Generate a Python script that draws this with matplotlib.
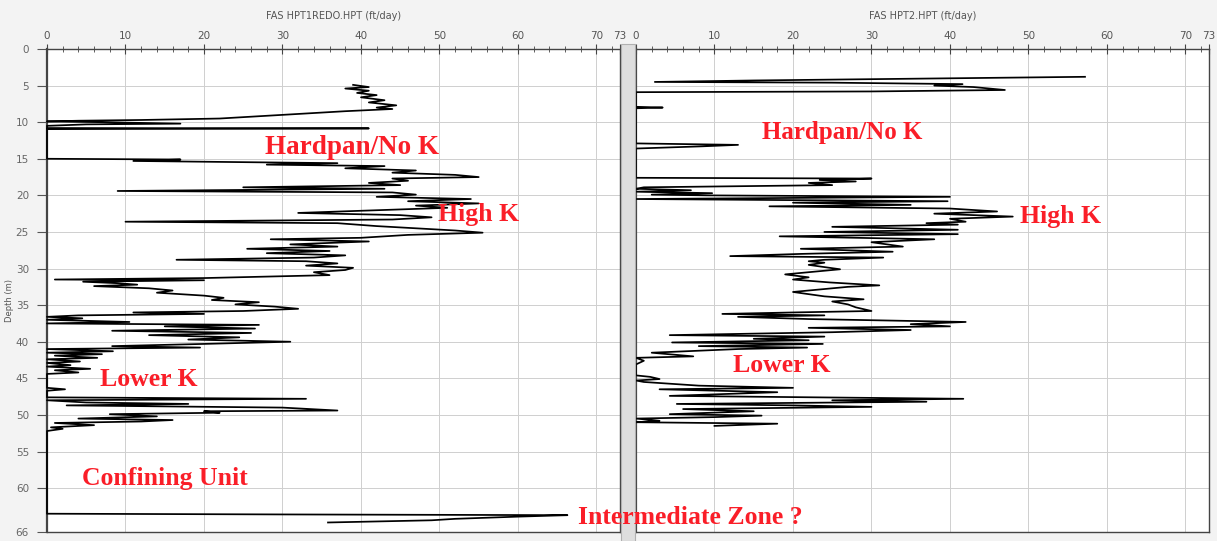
import matplotlib.pyplot as plt
from matplotlib.patches import Rectangle

# HPT1 (left log): depth (m) and K (ft/day)
hpt1_depth = [4.9, 5.2, 5.4, 5.7, 6.0, 6.3, 6.6, 7.0, 7.3, 7.7, 8.0, 8.2, 8.5, 9.0, 9.3, 9.5,
              9.7, 9.8, 9.9, 10.0, 10.2, 10.3, 10.5, 10.8, 10.85, 10.95, 15.0, 15.1, 15.3, 15.6,
              15.8, 16.0, 16.3, 16.6, 16.9, 17.2, 17.5, 17.7, 18.0, 18.3, 18.6, 18.9, 19.1, 19.4,
              19.6, 19.9, 20.2, 20.5, 20.8, 21.1, 21.4, 21.7, 22.0, 22.4, 22.7, 23.0, 23.3, 23.6,
              23.8, 24.2, 24.5, 24.8, 25.1, 25.4, 25.8, 26.0, 26.3, 26.7, 27.0, 27.3, 27.6, 27.9,
              28.2, 28.5, 28.8, 29.0, 29.3, 29.6, 29.9, 30.2, 30.5, 30.9, 31.3, 31.5, 31.6, 31.8,
              32.0, 32.2, 32.4, 32.7, 33.0, 33.3, 33.7, 34.0, 34.3, 34.6, 34.9, 35.2, 35.5, 35.8,
              36.0, 36.2, 36.4, 36.6, 36.8, 37.0, 37.3, 37.5, 37.7, 37.9, 38.2, 38.5, 38.8, 39.1,
              39.4, 39.7, 40.0, 40.3, 40.6, 40.8, 41.0, 41.3, 41.5, 41.7, 41.9, 42.2, 42.4, 42.7,
              42.9, 43.2, 43.4, 43.7, 43.9, 44.2, 44.4, 46.3, 46.5, 46.7, 47.6, 47.8, 48.0, 48.3,
              48.5, 48.7, 49.0, 49.4, 49.5, 49.7, 49.9, 50.2, 50.5, 50.7, 50.9, 51.1, 51.4, 51.7,
              51.9, 52.2, 63.5, 63.6, 63.7, 63.9, 64.2, 64.4, 64.7]
hpt1_k = [39, 41, 38, 41, 39.5, 42, 40, 43, 41, 44.5, 42, 44, 38, 30, 25, 22,
          12, 4, 0, 7, 17, 5, 0, 0, 41, 0, 0, 17, 11, 37,
          28, 43, 38, 47, 44, 52, 55, 44, 46, 41, 45, 25, 43, 9,
          44, 47, 42, 54, 46, 55, 47, 51, 43, 32, 45, 49, 44, 10,
          37, 42, 47, 52, 55.5, 46, 40, 28.5, 41, 31, 37, 25.5, 36, 28,
          38, 34, 16.5, 33, 37, 33, 39, 38, 34, 36, 20, 1, 20, 4.6,
          9, 11.5, 6, 13, 16, 14, 20, 22.5, 21, 27, 24, 29, 32, 25,
          11, 20, 4, 0, 4.5, 0, 10.5, 0, 27, 15, 26.5, 8.3, 26, 13,
          24.5, 18, 31, 20, 8.3, 19.5, 0, 8.4, 0, 7, 1, 6.4, 0, 4.2,
          0, 3, 0, 5.5, 1, 4, 0, 0, 2.3, 0, 0, 33, 0, 5,
          18, 2.5, 30, 37, 20, 22, 8, 14, 4, 16, 12, 1, 6, 0.5,
          2, 0, 0, 30, 66.3, 60, 52, 49, 35.8]

# HPT2 (right log)
hpt2_depth = [3.8, 4.0, 4.3, 4.5, 4.6, 4.8, 5.0, 5.2, 5.4, 5.6, 5.8, 5.9, 7.9, 8.0, 8.1, 12.9,
              13.1, 13.3, 13.5, 13.6, 17.6, 17.7, 17.9, 18.1, 18.3, 18.6, 18.9, 19.1, 19.3, 19.5,
              19.7, 19.9, 20.0, 20.2, 20.5, 20.8, 21.0, 21.3, 21.5, 21.8, 22.2, 22.5, 22.9, 23.2,
              23.6, 23.8, 24.0, 24.3, 24.7, 25.0, 25.3, 25.6, 26.0, 26.4, 27.0, 27.3, 27.7, 28.0,
              28.3, 28.5, 28.8, 29.0, 29.2, 29.5, 30.1, 30.5, 30.8, 31.2, 31.5, 31.9, 32.3, 32.5,
              32.8, 33.2, 33.8, 34.2, 34.5, 34.9, 35.3, 35.8, 36.0, 36.2, 36.4, 36.6, 36.9, 37.3,
              37.6, 37.9, 38.1, 38.4, 38.7, 39.1, 39.3, 39.6, 39.8, 40.1, 40.3, 40.6, 40.8, 41.0,
              41.5, 42.0, 42.2, 42.6, 43.1, 44.6, 44.8, 45.1, 45.3, 45.5, 46.0, 46.3, 46.5, 46.9,
              47.2, 47.4, 47.8, 48.0, 48.2, 48.5, 48.7, 48.9, 49.2, 49.5, 49.9, 50.1, 50.3, 50.5,
              50.8, 51.0, 51.2, 51.5]
hpt2_k = [57.2, 40, 15, 2.4, 25, 41.6, 38, 43, 45, 47, 30, 0, 0, 3.4, 0, 0,
          13, 8.4, 3, 0, 0, 30, 23.4, 28, 22, 25, 1, 0, 7, 0,
          9.7, 2, 9, 40, 0, 39.7, 20, 35, 17, 40, 46, 38, 48, 40,
          42, 37, 41, 25, 41, 24, 41, 18.3, 38, 30, 34, 21, 32.7, 21,
          12, 31.5, 24, 22, 24, 22, 26, 22, 19, 22, 20, 24.7, 31, 27,
          24, 20, 24, 29, 25, 27, 28, 30, 20, 11, 24, 13, 22, 42,
          35, 40, 22, 35, 25, 4.3, 24, 15, 22, 4.6, 23.8, 8, 21.8, 13,
          2, 7.3, 0, 1, 0, 0, 1.8, 3, 0, 1, 8, 20, 3, 18,
          10, 4.3, 41.7, 25, 37, 5.2, 20, 30, 6, 15, 4.3, 16, 10, 0,
          3, 0, 18, 10]

titles = ["FAS HPT1REDO.HPT (ft/day)", "FAS HPT2.HPT (ft/day)"]
x_ticks = [0, 10, 20, 30, 40, 50, 60, 70, 73]
y_ticks = [0, 5, 10, 15, 20, 25, 30, 35, 40, 45, 50, 55, 60, 66]

W, H = 1217, 541
RED = '#fa1e28'


def box(x0, y0, x1, y1):
    return [x0 / W, 1 - y1 / H, (x1 - x0) / W, (y1 - y0) / H]


fig = plt.figure(figsize=(W / 100, H / 100), dpi=100, facecolor='#f3f3f3')

# splitter between the two tracks
fig.patches.append(Rectangle((621 / W, 0), 14 / W, 1 - 44 / H, transform=fig.transFigure,
                             facecolor='#dedede', edgecolor='#b0b0b0', lw=0.8))

ax1 = fig.add_axes(box(47, 49, 620, 532))
ax2 = fig.add_axes(box(636, 49, 1209, 532))

for ax, depth, k, title in [(ax1, hpt1_depth, hpt1_k, titles[0]),
                            (ax2, hpt2_depth, hpt2_k, titles[1])]:
    ax.set_facecolor('white')
    ax.plot(k, depth, color='black', lw=1.25, clip_on=False, zorder=3)
    ax.set_xlim(0, 73)
    ax.set_ylim(66, 0)
    ax.xaxis.tick_top()
    ax.set_xticks(x_ticks)
    ax.set_xticks(range(0, 73, 2), minor=True)
    ax.set_yticks(y_ticks)
    ax.tick_params(axis='x', which='major', direction='inout', length=7, width=0.8,
                   labelsize=7.5, labelcolor='#555555', color='#444444', pad=2)
    ax.tick_params(axis='x', which='minor', direction='inout', length=4, width=0.6,
                   color='#444444')
    ax.grid(True, color='#cfcfcf', lw=0.7, zorder=0)
    for s in ax.spines.values():
        s.set_color('#444444')
        s.set_linewidth(1.0)
    ax.spines['left'].set_linewidth(1.6)
    fig.text((ax.get_position().x0 + ax.get_position().x1) / 2, 1 - 16 / H, title,
             ha='center', va='center', fontsize=7, color='#555555')

ax1.tick_params(axis='y', direction='out', length=7, width=0.8, labelsize=7.5,
                labelcolor='#666666', color='#555555', pad=6)
ax2.tick_params(axis='y', length=0, labelleft=False)

fig.text(9 / W, 1 - 300 / H, 'Depth (m)', rotation=90, ha='center', va='center',
         fontsize=6, color='#555555')

notes = [("Hardpan/No K", 265, 148, 19.5), ("High K", 438, 215, 18.5),
         ("Lower K", 100, 380, 18.5), ("Confining Unit", 82, 478, 18.5),
         ("Intermediate Zone ?", 578, 517, 18.5), ("Hardpan/No K", 762, 132, 18),
         ("High K", 1020, 217, 18.5), ("Lower K", 733, 366, 18.5)]
for txt, x, y, size in notes:
    fig.text(x / W, 1 - y / H, txt, ha='left', va='center', fontsize=size,
             family='Liberation Serif', weight='bold', color=RED, zorder=10)

plt.savefig("out.png", dpi=100, facecolor=fig.get_facecolor())
